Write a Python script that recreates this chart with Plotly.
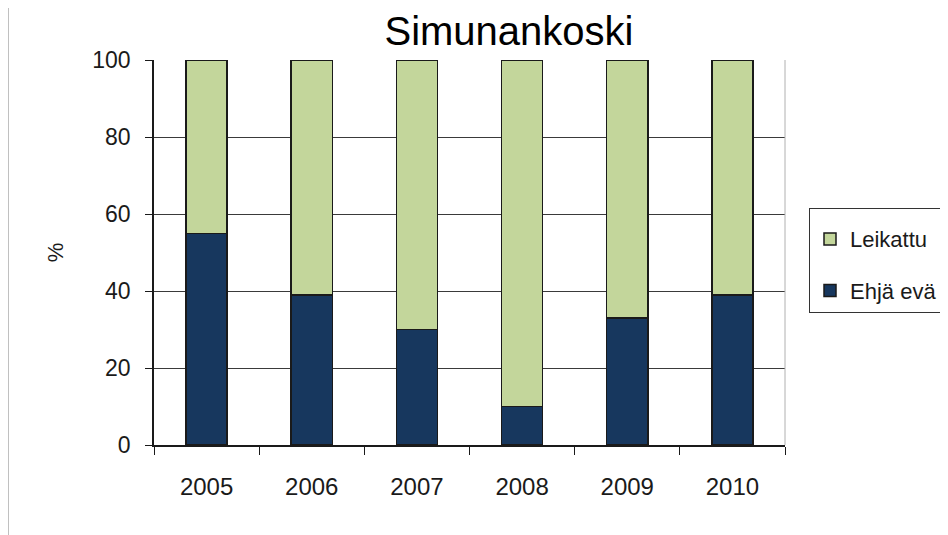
import plotly.graph_objects as go

# data
vuodet = ['2005', '2006', '2007', '2008', '2009', '2010']
ehja_eva = [55, 39, 30, 10, 33, 39]
leikattu = [45, 61, 70, 90, 67, 61]
y_ticks = [0, 20, 40, 60, 80, 100]

# page body has an 8px margin, so the figure is laid out 8px up/left
W, H = 940, 527
ml, mr, mt, mb = 146, 163, 52, 90
pw, ph = W - ml - mr, H - mt - mb

fnt = 'Liberation Sans, Arial, sans-serif'

fig = go.Figure()
fig.add_trace(go.Bar(x=vuodet, y=ehja_eva, name='Ehjä evä', legendgroup='a', legendrank=2,
                     marker=dict(color='#17375e', line=dict(color='#1a1a1a', width=1.5))))
fig.add_trace(go.Bar(x=vuodet, y=leikattu, name='Leikattu', legendgroup='b', legendrank=1,
                     marker=dict(color='#c3d69b', line=dict(color='#1a1a1a', width=1.5))))

# gray frame strip on the left + light plot border on the right
shapes = [
    dict(type='rect', xref='paper', yref='paper', layer='below',
         x0=-ml / pw, x1=(1 - ml) / pw, y0=-mb / ph, y1=(H - mb) / ph,
         fillcolor='#c0c0c0', line_width=0),
    dict(type='line', xref='paper', yref='paper', x0=1, x1=1, y0=0, y1=1,
         line=dict(color='#b0b0b0', width=1)),
]

fig.update_layout(
    width=W, height=H, autosize=False,
    barmode='stack', bargap=0.61,
    margin=dict(l=ml, r=mr, t=mt, b=mb, autoexpand=False),
    paper_bgcolor='white', plot_bgcolor='white',
    font=dict(family=fnt, size=24, color='#1a1a1a'),
    title=dict(text='Simunankoski', font=dict(family=fnt, size=40, color='black'),
               xref='container', x=501 / W, xanchor='center',
               yref='container', y=1 - 23 / H, yanchor='middle'),
    xaxis=dict(showline=True, linecolor='#1a1a1a', linewidth=1.5,
               ticks='outside', tickson='boundaries', ticklen=8, tickcolor='#1a1a1a',
               ticklabelstandoff=19, showgrid=False),
    yaxis=dict(range=[0, 100], tickvals=y_ticks, showline=True, linecolor='#1a1a1a',
               linewidth=1.5, ticks='outside', ticklen=7, tickcolor='#1a1a1a',
               tickfont=dict(size=23), ticklabelstandoff=10,
               showgrid=True, gridcolor='#3a3a3a', gridwidth=1, zeroline=False,
               title=dict(text='%', font=dict(size=22), standoff=23)),
    legend=dict(x=(801 - ml) / pw, y=(H - mb - 200) / ph, xanchor='left', yanchor='top',
                traceorder='grouped', tracegroupgap=20,
                title=dict(text=' ', font=dict(size=7)),
                bordercolor='#333333', borderwidth=1, bgcolor='white',
                font=dict(family=fnt, size=22, color='#1a1a1a')),
    shapes=shapes,
    showlegend=True,
)

fig.write_html("out.html")
